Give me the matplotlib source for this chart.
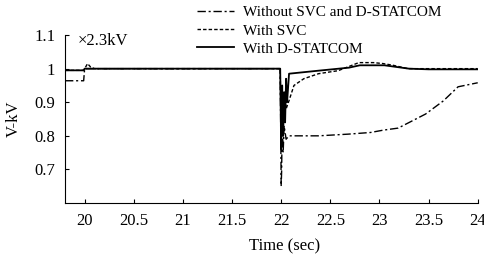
import matplotlib
matplotlib.use("Agg")
import matplotlib.pyplot as plt

plt.rcParams['font.family'] = ['Liberation Serif', 'DejaVu Serif']

# Without SVC and D-STATCOM
t_none = [19.8, 19.99, 20.0, 21.99, 22.0, 22.005, 22.01, 22.02, 22.03, 22.05, 22.08,
          22.38, 22.68, 22.91, 23.04, 23.19, 23.29, 23.47, 23.65, 23.80, 23.95, 24.0]
v_none = [0.964, 0.964, 1.0, 1.0, 0.65, 0.70, 0.85, 0.75, 0.83, 0.79, 0.80,
          0.80, 0.805, 0.81, 0.817, 0.823, 0.838, 0.865, 0.904, 0.946, 0.955, 0.958]

# With SVC
t_svc = [19.8, 19.99, 20.0, 20.03, 20.06, 20.1, 21.99, 22.0, 22.01, 22.02, 22.03,
         22.05, 22.08, 22.13, 22.23, 22.38, 22.58, 22.79, 22.94, 23.04, 23.14,
         23.29, 23.5, 24.0]
v_svc = [0.995, 0.995, 1.0, 1.015, 1.005, 1.0, 1.0, 0.78, 0.9, 0.82, 0.93,
         0.88, 0.905, 0.95, 0.97, 0.985, 0.994, 1.018, 1.018, 1.015, 1.01,
         1.0, 1.0, 1.0]

# With D-STATCOM
t_stat = [19.8, 19.99, 20.0, 21.99, 22.0, 22.01, 22.02, 22.03, 22.04, 22.05, 22.06,
          22.08, 22.38, 22.69, 22.8, 23.05, 23.3, 23.5, 24.0]
v_stat = [0.995, 0.995, 1.0, 1.0, 0.76, 0.95, 0.8, 0.93, 0.84, 0.97, 0.9,
          0.985, 0.994, 1.003, 1.01, 1.01, 1.0, 0.998, 0.998]

xticks = [20, 20.5, 21, 21.5, 22, 22.5, 23, 23.5, 24]
xticklabels = ['20', '20.5', '21', '21.5', '22', '22.5', '23', '23.5', '24']
yticks = [0.7, 0.8, 0.9, 1.0, 1.1]
yticklabels = ['0.7', '0.8', '0.9', '1', '1.1']

fig = plt.figure(figsize=(4.85, 2.56), dpi=100)
ax = fig.add_axes([0.134, 0.207, 0.851, 0.656])

l1, = ax.plot(t_none, v_none, color='black', lw=1.0, linestyle=(0, (6, 2, 1.5, 2)))
l2, = ax.plot(t_svc, v_svc, color='black', lw=1.0, linestyle=(0, (2.5, 1.5)))
l3, = ax.plot(t_stat, v_stat, color='black', lw=1.3, linestyle='-')

ax.set_xlim(19.8, 24)
ax.set_ylim(0.6, 1.1)
ax.set_xticks(xticks)
ax.set_xticklabels(xticklabels)
ax.set_yticks(yticks)
ax.set_yticklabels(yticklabels)
ax.tick_params(direction='in', labelsize=12, length=3, pad=7)
ax.spines['top'].set_visible(False)
ax.spines['right'].set_visible(False)

ax.set_xlabel('Time (sec)', fontsize=12)
ax.xaxis.set_label_coords(0.532, -0.21)
ax.set_ylabel('V-kV', fontsize=12)
ax.yaxis.set_label_coords(-0.105, 0.5)
ax.text(19.93, 1.083, '×2.3kV', fontsize=12, va='center', ha='left')

fig.legend([l1, l2, l3], ['Without SVC and D-STATCOM', 'With SVC', 'With D-STATCOM'],
           loc='upper left', bbox_to_anchor=(0.385, 1.02), frameon=False,
           fontsize=11, handlelength=2.4, labelspacing=0.3, handletextpad=0.6,
           borderpad=0.2)

fig.savefig('out.png', dpi=100)
